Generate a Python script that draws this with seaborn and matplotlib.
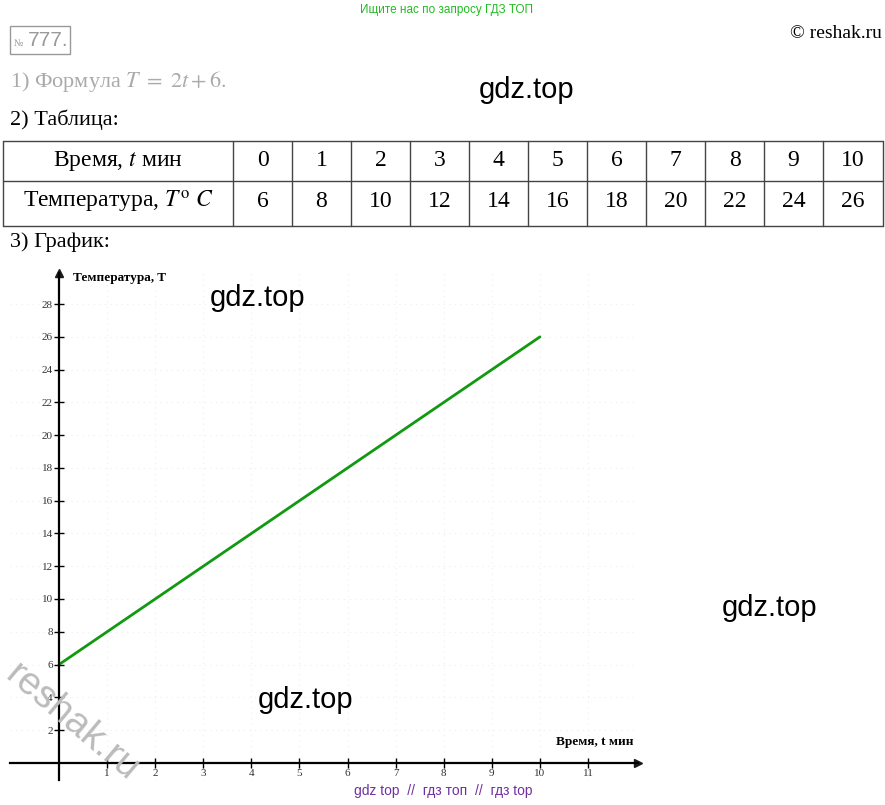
import matplotlib
matplotlib.use("Agg")
import matplotlib.pyplot as plt
import seaborn as sns
import pandas as pd
from matplotlib.lines import Line2D

# data from the table / graph
times = [0, 1, 2, 3, 4, 5, 6, 7, 8, 9, 10]
temps = [6, 8, 10, 12, 14, 16, 18, 20, 22, 24, 26]
x_ticks = [1, 2, 3, 4, 5, 6, 7, 8, 9, 10, 11]
y_ticks = [2, 4, 6, 8, 10, 12, 14, 16, 18, 20, 22, 24, 26, 28]

W, H = 885, 805

sns.set_theme(style="white")
plt.rcParams["font.family"] = ["Liberation Serif", "DejaVu Serif"]
plt.rcParams["mathtext.fontset"] = "stix"
plt.rcParams["text.color"] = "black"

fig = plt.figure(figsize=(W / 100, H / 100), dpi=100)


def fx(px):
    return px / W


def fy(py):
    return 1 - py / H


def hline(x0, x1, y, **kw):
    fig.add_artist(Line2D([fx(x0), fx(x1)], [fy(y), fy(y)], transform=fig.transFigure, **kw))


def vline(x, y0, y1, **kw):
    fig.add_artist(Line2D([fx(x), fx(x)], [fy(y0), fy(y1)], transform=fig.transFigure, **kw))


# header texts
fig.text(fx(446), fy(10), "Ищите нас по запросу ГДЗ ТОП", color="#22bb22", fontsize=8.5,
         family=["Liberation Sans", "DejaVu Sans"], ha="center", va="center")
fig.text(fx(882), fy(33), "© reshak.ru", fontsize=14, ha="right", va="center")
fig.text(fx(14), fy(43), "№", fontsize=7, color="#999999", ha="left", va="center")
fig.text(fx(28), fy(41), "777.", fontsize=15, color="#999999", ha="left", va="center",
         family=["Liberation Sans Narrow", "Liberation Sans", "DejaVu Sans"])
fig.patches.append(plt.Rectangle((fx(10), fy(54)), fx(60), 28 / H, transform=fig.transFigure,
                                 fill=False, edgecolor="#999999", lw=1))
fig.text(fx(10), fy(82), r"1) Формула $T\ =\ 2t+6.$", fontsize=16, color="#aaaaaa", ha="left", va="center")
fig.text(fx(10), fy(120), "2) Таблица:", fontsize=16, ha="left", va="center")

# table
tab_top, tab_mid, tab_bot = 141, 181, 226
col_edges = [3, 233] + [233 + 59 * (i + 1) for i in range(11)]
col_edges[-1] = 883
for y in (tab_top, tab_mid, tab_bot):
    hline(3, 883, y, color="#444444", lw=1)
for x in col_edges:
    vline(x, tab_top, tab_bot, color="#444444", lw=1)
fig.text(fx(118), fy(161), r"Время, $t$ мин", fontsize=17, ha="center", va="center")
fig.text(fx(118), fy(202), r"Температура, $T^{\rm o}\ C$", fontsize=17, ha="center", va="center")
for i, (t, T) in enumerate(zip(times, temps)):
    cx = (col_edges[i + 1] + col_edges[i + 2]) / 2
    fig.text(fx(cx), fy(160), str(t), fontsize=17, ha="center", va="center")
    fig.text(fx(cx), fy(201), str(T), fontsize=17, ha="center", va="center")
fig.text(fx(10), fy(242), "3) График:", fontsize=16, ha="left", va="center")

# graph
ax_l, ax_r, ax_t, ax_b = 10, 638, 273, 780
ax = fig.add_axes([fx(ax_l), fy(ax_b), (ax_r - ax_l) / W, (ax_b - ax_t) / H])
df = pd.DataFrame({"t": times, "T": temps})
sns.lineplot(data=df, x="t", y="T", ax=ax, color="#119911", lw=2)

ax.set_xlim(-1.02, 12.04)
ax.set_ylim(-1.05, 29.9)
ax.set_facecolor("none")
for s in ("top", "right"):
    ax.spines[s].set_visible(False)
ax.spines["left"].set_position(("data", 0))
ax.spines["bottom"].set_position(("data", 0))
ax.spines["left"].set_color("black")
ax.spines["bottom"].set_color("black")
ax.spines["left"].set_linewidth(1.6)
ax.spines["bottom"].set_linewidth(1.6)
ax.plot(1, 0, ">k", ms=6, transform=ax.get_yaxis_transform(), clip_on=False)
ax.plot(0, 1, "^k", ms=6, transform=ax.get_xaxis_transform(), clip_on=False)

ax.set_xticks(x_ticks)
ax.set_yticks(y_ticks)
ax.set_xticklabels([str(v) for v in x_ticks])
ax.set_yticklabels([str(v) for v in y_ticks])
ax.tick_params(axis="both", direction="inout", length=7, width=1, color="black",
               labelsize=8, labelcolor="#333333", pad=1, bottom=True, left=True)
for y in y_ticks:
    ax.axhline(y, color="#eeeeee", lw=0.8, ls=(0, (1, 4)), zorder=0)
for x in x_ticks:
    ax.axvline(x, color="#eeeeee", lw=0.8, ls=(0, (1, 4)), zorder=0)
ax.set_xlabel("")
ax.set_ylabel("")
ax.text(0.28, 0.99, "Температура, T", transform=ax.get_xaxis_transform(), fontsize=9.5,
        fontweight="bold", ha="left", va="center")
ax.text(11.95, 0.9, "Время, t мин", fontsize=9.5, fontweight="bold", ha="right", va="bottom")

# watermarks
for (px, py) in [(527, 90), (258, 298), (770, 608), (306, 700)]:
    fig.text(fx(px), fy(py), "gdz.top", fontsize=21, ha="center", va="center",
             family=["Liberation Sans", "DejaVu Sans"])
fig.text(fx(72), fy(722), "reshak.ru", fontsize=28, color="#bbbbbb", rotation=-40,
         rotation_mode="anchor", ha="center", va="center", family=["Liberation Sans", "DejaVu Sans"])
fig.text(fx(443), fy(791), "gdz top  //  гдз топ  //  гдз top", fontsize=10, color="#7030a0",
         ha="center", va="center", family=["Liberation Sans", "DejaVu Sans"])

fig.savefig("out.png", dpi=100)
